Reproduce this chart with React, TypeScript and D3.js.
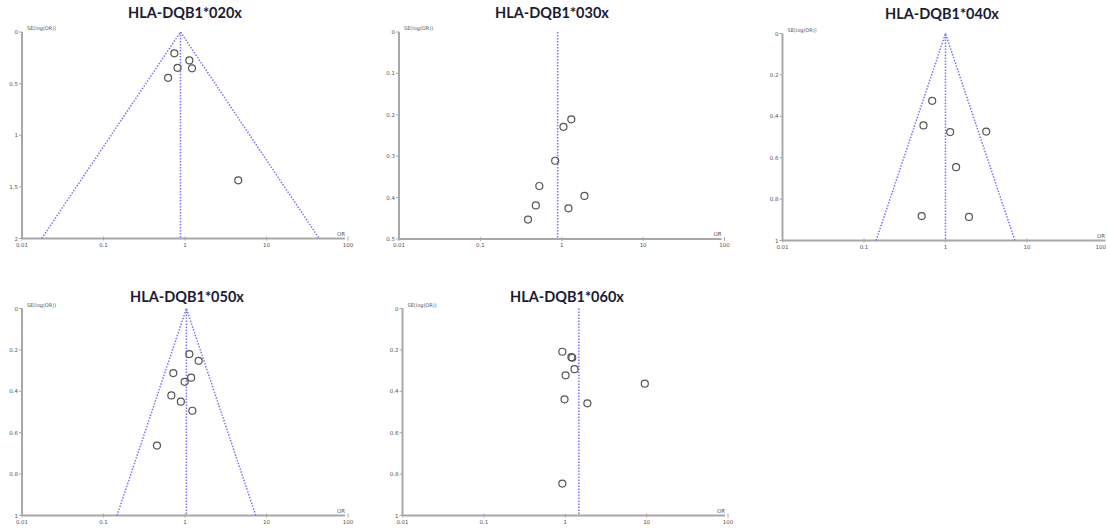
import React from "react";
import * as d3 from "d3";

const titles = ["HLA-DQB1*020x", "HLA-DQB1*030x", "HLA-DQB1*040x", "HLA-DQB1*050x", "HLA-DQB1*060x"];
const xTickValues = [0.01, 0.1, 1, 10, 100];
const xTickLabels = ["0.01", "0.1", "1", "10", "100"];

const yMaxes = [2, 0.5, 1, 1, 1];
const yTickSteps = [0.5, 0.1, 0.2, 0.2, 0.2];
const pooledOR = [0.88, 0.89, 1.0, 1.04, 1.47];
const showFunnel = [true, false, true, true, false];

const or020 = [0.74, 1.13, 0.81, 1.22, 0.62, 4.5];
const se020 = [0.207, 0.275, 0.347, 0.352, 0.444, 1.437];

const or030 = [1.31, 1.05, 0.83, 0.53, 1.9, 0.48, 1.21, 0.385];
const se030 = [0.211, 0.229, 0.311, 0.372, 0.396, 0.419, 0.426, 0.453];

const or040 = [0.687, 0.537, 1.14, 3.16, 1.35, 0.51, 1.94];
const se040 = [0.325, 0.444, 0.476, 0.474, 0.646, 0.882, 0.886];

const or050 = [1.13, 1.47, 0.718, 1.19, 0.99, 0.68, 0.89, 1.23, 0.453];
const se050 = [0.22, 0.253, 0.312, 0.334, 0.354, 0.42, 0.45, 0.494, 0.662];

const or060 = [0.92, 1.19, 1.22, 1.3, 1.01, 9.5, 0.98, 1.87, 0.92];
const se060 = [0.209, 0.235, 0.238, 0.293, 0.323, 0.363, 0.439, 0.458, 0.846];

const orSeries = [or020, or030, or040, or050, or060];
const seSeries = [se020, se030, se040, se050, se060];

// layout (pixel positions of each panel's plot area)
const layout = [
  { x0: 22, x1: 348, yTop: 32, yBot: 238.5, titleX: 185, titleY: 18 },
  { x0: 399, x1: 724.5, yTop: 32, yBot: 239, titleX: 552, titleY: 18 },
  { x0: 782.5, x1: 1108.5, yTop: 33.5, yBot: 240.5, titleX: 942, titleY: 19 },
  { x0: 22, x1: 348, yTop: 308.5, yBot: 515.5, titleX: 187, titleY: 302 },
  { x0: 402.5, x1: 728, yTop: 308.5, yBot: 515.5, titleX: 567, titleY: 302 },
];

const W = 1107;
const axisColor = "#a8a8a8";
const tickTextColor = "#555";
const funnelColor = "#7676f4";

function Panel({ i }: { i: number }) {
  const L = layout[i];
  const x = d3.scaleLog().domain([0.01, 100]).range([L.x0, L.x1]);
  const y = d3.scaleLinear().domain([0, yMaxes[i]]).range([L.yTop, L.yBot]);
  const yTicks = d3.range(0, yMaxes[i] + 1e-9, yTickSteps[i]);
  const p = pooledOR[i];
  const ym = yMaxes[i];
  const z = 1.96;
  const funnelLine = d3.line<[number, number]>().x((d) => x(d[0])).y((d) => y(d[1]));
  const funnelPts: [number, number][] = [
    [p * Math.exp(-z * ym), ym],
    [p, 0],
    [p * Math.exp(z * ym), ym],
  ];
  const ors = orSeries[i];
  const ses = seSeries[i];
  const fmt = (v: number) => {
    const r = Math.round(v * 10) / 10;
    return r === Math.round(r) ? String(Math.round(r)) : String(r);
  };
  return (
    <g>
      <text
        x={L.titleX}
        y={L.titleY}
        textAnchor="middle"
        fontFamily="Lato, 'Open Sans', sans-serif"
        fontWeight="bold"
        fontSize={14.5}
        fill="#1b1b33"
      >
        {titles[i]}
      </text>
      <line x1={L.x0} x2={L.x0} y1={y(0)} y2={y(ym)} stroke={axisColor} strokeWidth={2} />
      <line x1={L.x0} x2={Math.min(L.x1 - 3, W)} y1={y(ym)} y2={y(ym)} stroke={axisColor} strokeWidth={2} />
      {yTicks.map((t, k) => (
        <g key={"y" + k}>
          <line x1={L.x0 - 3} x2={L.x0} y1={y(t)} y2={y(t)} stroke={axisColor} strokeWidth={1} />
          <text
            x={L.x0 - 4}
            y={y(t) + 2}
            textAnchor="end"
            fontFamily="'DejaVu Sans', sans-serif"
            fontSize={5.5}
            fill={tickTextColor}
          >
            {fmt(t)}
          </text>
        </g>
      ))}
      {xTickValues.map((t, k) => {
        const cx = x(t);
        const cut = cx + 6 > W;
        return (
          <g key={"x" + k}>
            <line x1={cx} x2={cx} y1={y(ym) - 2} y2={y(ym) + 2} stroke={axisColor} strokeWidth={1} />
            <text
              x={cut ? W - 1 : cx}
              y={y(ym) + 8}
              textAnchor={cut ? "end" : "middle"}
              fontFamily="'DejaVu Sans', sans-serif"
              fontSize={5.5}
              fill={tickTextColor}
            >
              {xTickLabels[k]}
            </text>
          </g>
        );
      })}
      <text
        x={L.x0 + 5}
        y={L.yTop - 2}
        fontFamily="'DejaVu Sans', sans-serif"
        fontSize={5}
        fill={tickTextColor}
      >
        SE(log(OR))
      </text>
      <text
        x={Math.min(L.x1 - 7, W - 6)}
        y={y(ym) - 3}
        textAnchor="middle"
        fontFamily="'DejaVu Sans', sans-serif"
        fontSize={5.5}
        fill={tickTextColor}
      >
        OR
      </text>
      <line
        x1={x(p)}
        x2={x(p)}
        y1={y(0)}
        y2={y(ym)}
        stroke={funnelColor}
        strokeWidth={1.5}
        strokeDasharray="1.5,1.5"
      />
      {showFunnel[i] && (
        <path
          d={funnelLine(funnelPts) || ""}
          fill="none"
          stroke={funnelColor}
          strokeWidth={1.5}
          strokeDasharray="1.5,1.5"
        />
      )}
      {ors.map((v, k) => (
        <circle
          key={"c" + k}
          cx={x(v)}
          cy={y(ses[k])}
          r={3.5}
          fill="none"
          stroke="#555"
          strokeWidth={1.2}
        />
      ))}
    </g>
  );
}

export default function App() {
  return (
    <svg width={W} height={529} style={{ position: "absolute", left: 0, top: 0, background: "#fff" }}>
      <rect width={W} height={529} fill="#fff" />
      {titles.map((_, i) => (
        <Panel key={i} i={i} />
      ))}
    </svg>
  );
}
